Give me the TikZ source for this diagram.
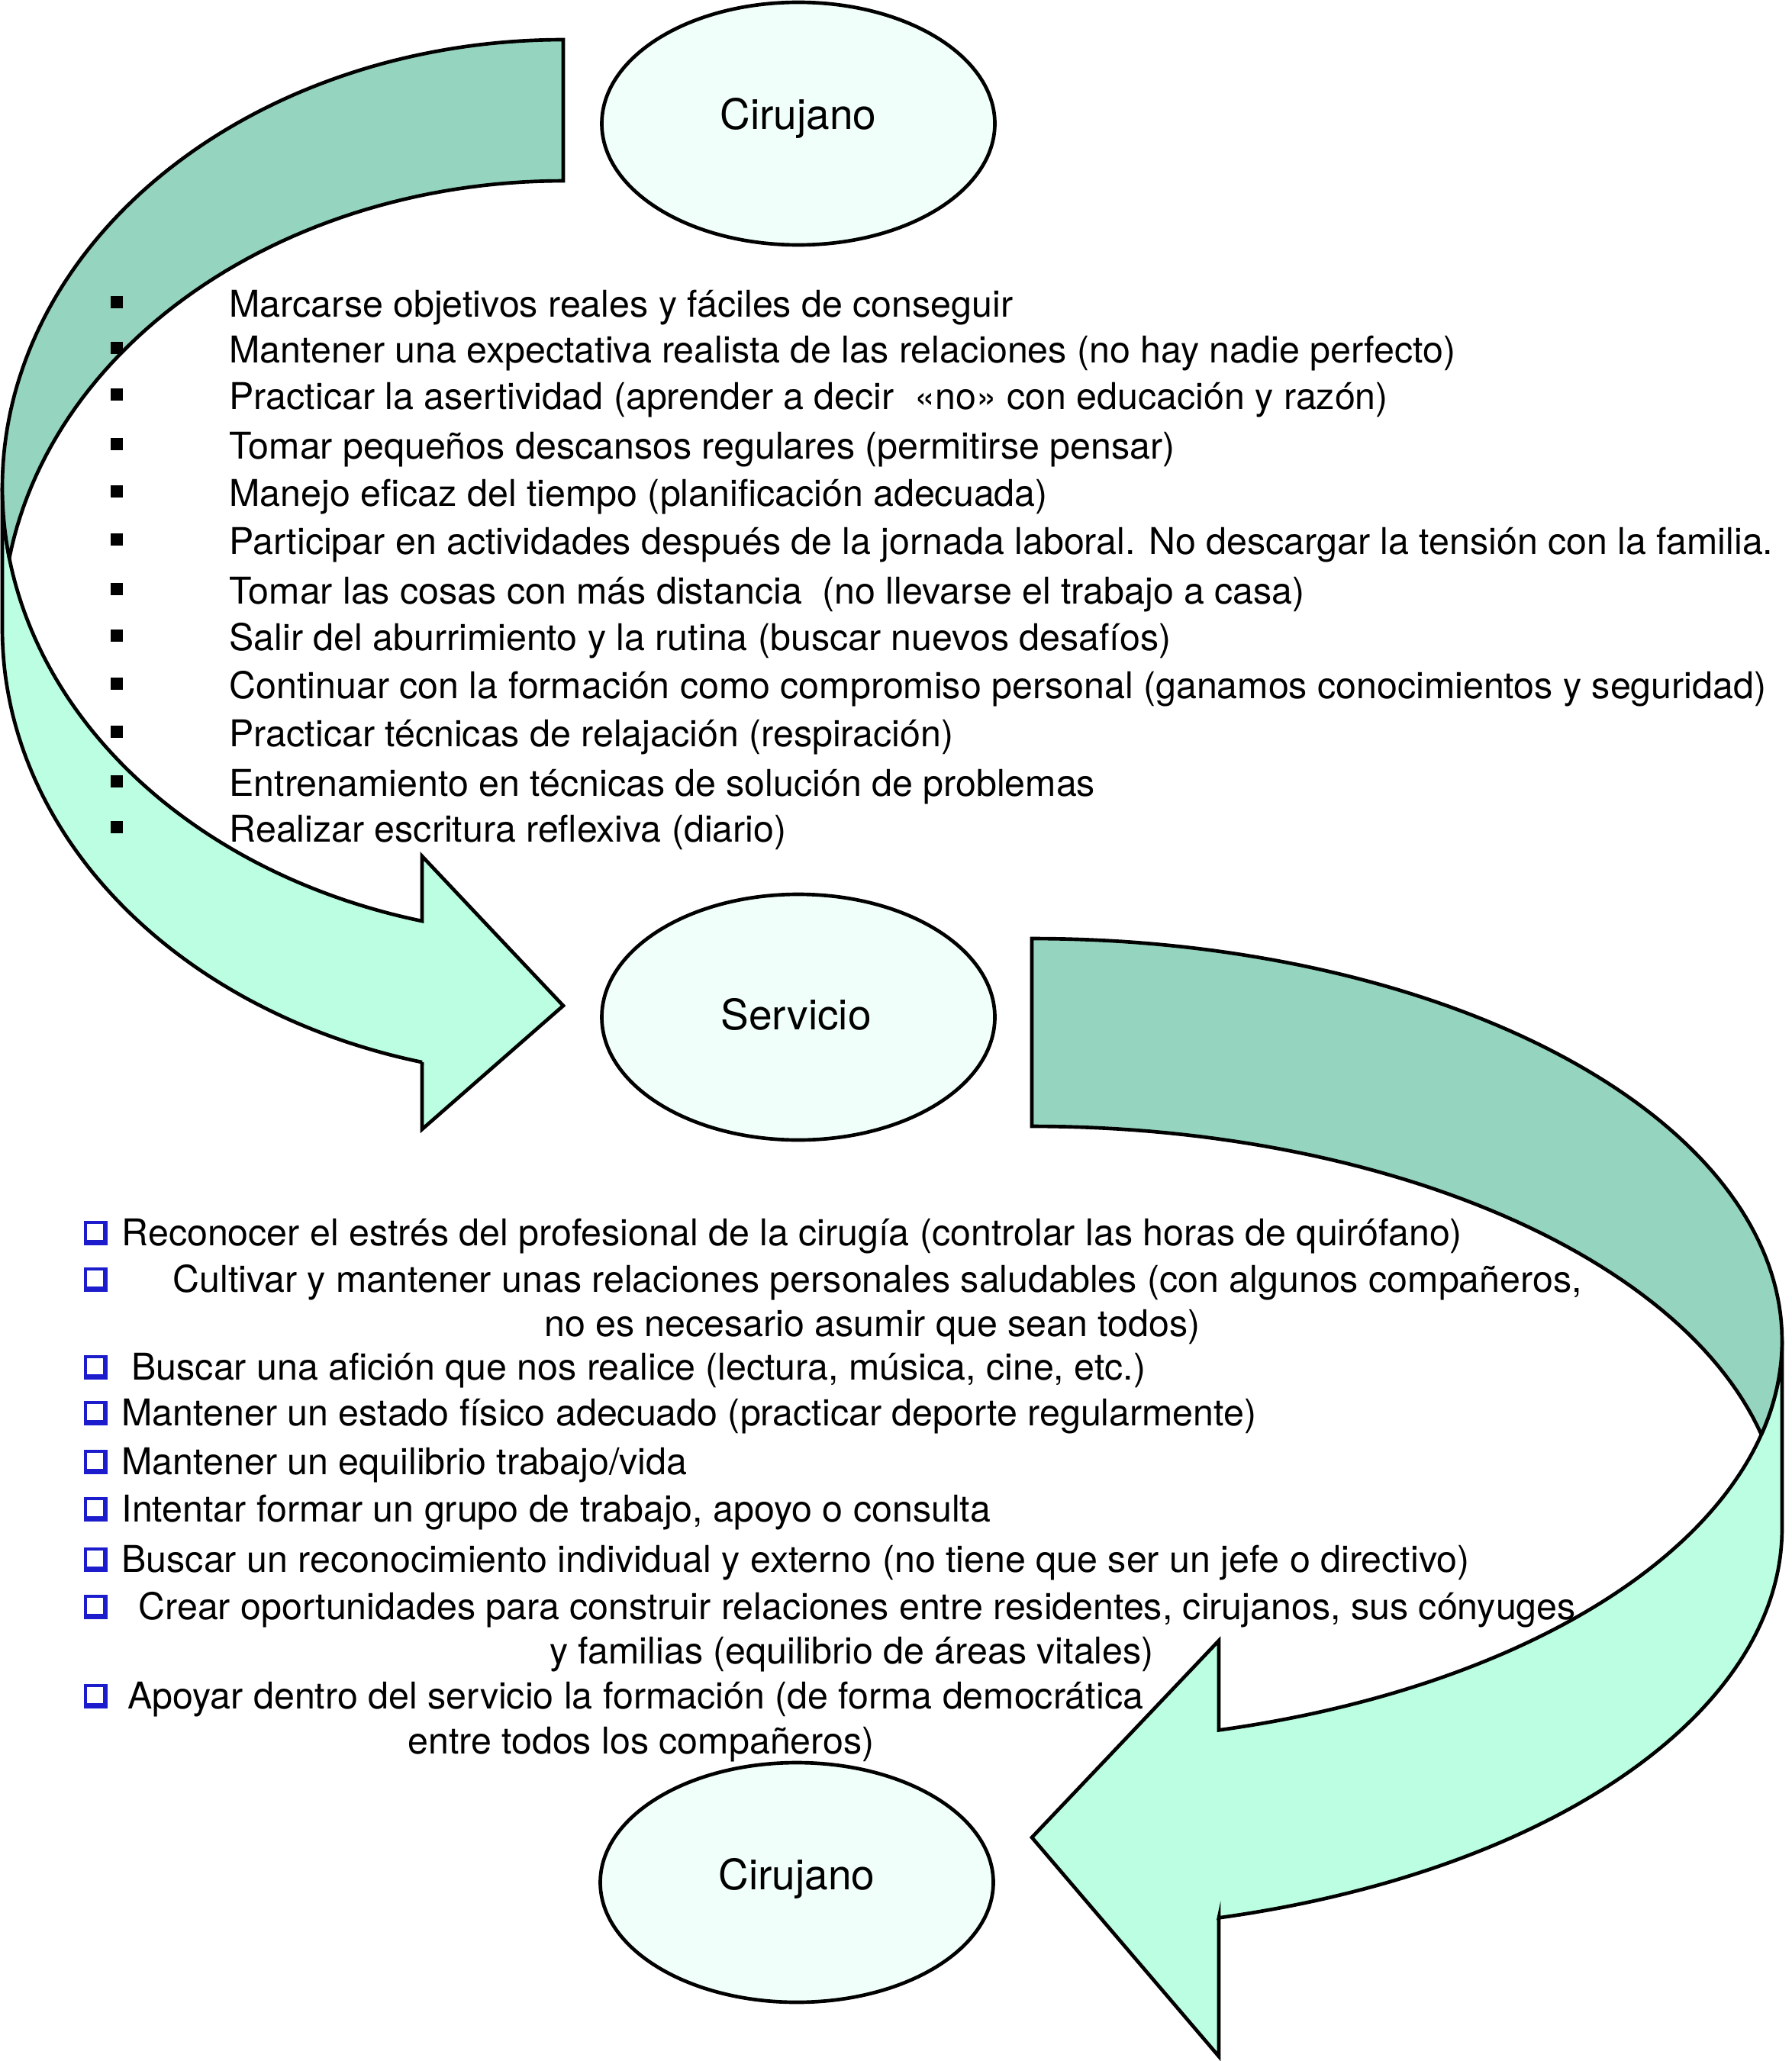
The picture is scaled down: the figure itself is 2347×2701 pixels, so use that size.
\documentclass[tikz,border=0pt]{standalone}
\usepackage{fontspec}
\setmainfont{TeX Gyre Heros}
\usetikzlibrary{shapes.geometric}
\definecolor{backteal}{HTML}{95D4BF}
\definecolor{frontmint}{HTML}{BBFEE2}
\definecolor{ellfill}{HTML}{F0FFFA}
\definecolor{boxblue}{HTML}{1C1CCC}
\begin{document}
\begin{tikzpicture}[x=0.3pt,y=-0.3pt,
  outline/.style={draw=black, line width=1.4pt, line join=miter},
  ell/.style={ellipse, draw=black, line width=1.4pt, fill=ellfill, inner sep=0pt,
              minimum width=154.5pt},
  lab/.style={inner sep=0pt, font=\fontsize{16.5}{19}\selectfont},
  item/.style={anchor=base west, inner sep=0pt, font=\fontsize{14.5}{17}\selectfont},
  itemc/.style={anchor=base, inner sep=0pt, font=\fontsize{14.5}{17}\selectfont},
  sq/.style={rectangle, fill=black, inner sep=0pt, minimum size=4.8pt},
  cbox/.style={rectangle, fill=boxblue, inner sep=0pt, minimum width=9.3pt, minimum height=9.6pt,
     path picture={\fill[white] ([xshift=1.2pt,yshift=-1.2pt]path picture bounding box.north west)
        rectangle ([xshift=-1.8pt,yshift=2pt]path picture bounding box.south east);}}
]
\useasboundingbox (0,0) rectangle (2347,2701);

% ---------- top-left curved arrow ----------
% front (light) face
\filldraw[fill=frontmint, outline]
  plot[domain=180:104.58, samples=90] ({738+735*cos(\x)},{639+587*sin(\x)})
  -- (553,1122) -- (738,1318) -- (553,1480) -- (553,1392)
  -- plot[domain=104.58:180, samples=90] ({738+735*cos(\x)},{824+587*sin(\x)})
  -- cycle;
% back (dark) face
\filldraw[fill=backteal, outline]
  plot[domain=270:170.93, samples=90] ({738+735*cos(\x)},{639+587*sin(\x)})
  -- plot[domain=189.07:270, samples=60] ({738+735*cos(\x)},{824+587*sin(\x)})
  -- cycle;

% ---------- bottom-right curved arrow ----------
\filldraw[fill=frontmint, outline]
  plot[domain=0:75.57, samples=90] ({1352+983*cos(\x)},{1757+527*sin(\x)})
  -- (1597,2150) -- (1352,2408) -- (1597,2695) -- (1597,2513)
  -- plot[domain=75.57:0, samples=90] ({1352+983*cos(\x)},{2003+527*sin(\x)})
  -- cycle;
\filldraw[fill=backteal, outline]
  plot[domain=270:373.5, samples=90] ({1352+983*cos(\x)},{1757+527*sin(\x)})
  -- plot[domain=346.5:270, samples=60] ({1352+983*cos(\x)},{2003+527*sin(\x)})
  -- cycle;

% ---------- ellipses ----------
\node[ell, minimum height=95.4pt] (cirA) at (1046,162) {};
\node[ell, minimum height=96.6pt] (serv) at (1046,1333) {};
\node[ell, minimum height=94.2pt] (cirB) at (1044,2467) {};
\node[lab] (cirAt) at (1046,155) {Cirujano};
\node[lab] (servt) at (1043,1329) {Servicio};
\node[lab] (cirBt) at (1044,2462) {Cirujano};

% ---------- top list ----------
\foreach \yy [count=\i] in {415,475,536,601,663,726,791,852,915,978,1043,1103}
  \node[sq] (b\i) at (153,\yy-19) {};
\node[item] (t1) at (300,415) {Marcarse objetivos reales y fáciles de conseguir};
\node[item] (t2) at (300,475) {Mantener una expectativa realista de las relaciones (no hay nadie perfecto)};
\node[item] (t3) at (300,536) {Practicar la asertividad (aprender a decir\ \ «no» con educación y razón)};
\node[item] (t4) at (300,601) {Tomar pequeños descansos regulares (permitirse pensar)};
\node[item] (t5) at (300,663) {Manejo eficaz del tiempo (planificación adecuada)};
\node[item] (t6) at (300,726) {Participar en actividades después de la jornada laboral. No descargar la tensión con la familia.};
\node[item] (t7) at (300,791) {Tomar las cosas con más distancia\ \ (no llevarse el trabajo a casa)};
\node[item] (t8) at (300,852) {Salir del aburrimiento y la rutina (buscar nuevos desafíos)};
\node[item] (t9) at (300,915) {Continuar con la formación como compromiso personal (ganamos conocimientos y seguridad)};
\node[item] (t10) at (300,978) {Practicar técnicas de relajación (respiración)};
\node[item] (t11) at (300,1043) {Entrenamiento en técnicas de solución de problemas};
\node[item] (t12) at (300,1103) {Realizar escritura reflexiva (diario)};

% ---------- bottom list ----------
\foreach \yy [count=\i] in {1632,1693,1808,1868,1932,1994,2060,2122,2239}
  \node[cbox] (c\i) at (125.5,\yy-16) {};
\node[item] (s1) at (159,1632) {Reconocer el estrés del profesional de la cirugía (controlar las horas de quirófano)};
\node[item] (s2) at (226,1693) {Cultivar y mantener unas relaciones personales saludables (con algunos compañeros,};
\node[itemc] (s2b) at (1143,1751) {no es necesario asumir que sean todos)};
\node[item] (s3) at (172,1808) {Buscar una afición que nos realice (lectura, música, cine, etc.)};
\node[item] (s4) at (159,1868) {Mantener un estado físico adecuado (practicar deporte regularmente)};
\node[item] (s5) at (159,1932) {Mantener un equilibrio trabajo/vida};
\node[item] (s6) at (159,1994) {Intentar formar un grupo de trabajo, apoyo o consulta};
\node[item] (s7) at (159,2060) {Buscar un reconocimiento individual y externo (no tiene que ser un jefe o directivo)};
\node[item] (s8) at (181,2122) {Crear oportunidades para construir relaciones entre residentes, cirujanos, sus cónyuges};
\node[itemc] (s8b) at (1116,2180) {y familias (equilibrio de áreas vitales)};
\node[item] (s9) at (167,2239) {Apoyar dentro del servicio la formación (de forma democrática};
\node[itemc] (s9b) at (840,2298) {entre todos los compañeros)};
\end{tikzpicture}
\end{document}
